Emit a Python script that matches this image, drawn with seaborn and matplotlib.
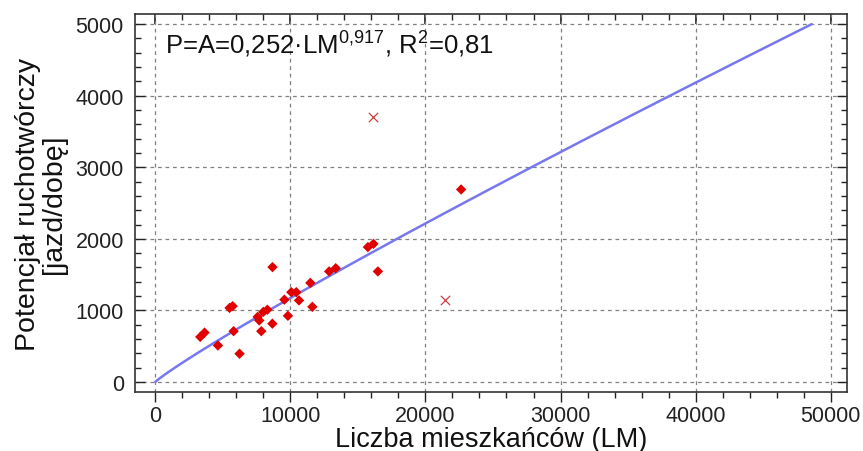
import matplotlib
matplotlib.use("Agg")
import matplotlib.pyplot as plt
from matplotlib.ticker import MultipleLocator
import numpy as np
import pandas as pd
import seaborn as sns

# observed points (population, trip potential)
lm = [3330, 3650, 4640, 6240, 5500, 5730, 5800, 7580, 7700, 7850, 8000, 8300,
      8680, 8670, 9560, 9820, 10070, 10440, 10640, 11480, 11630, 12870, 13360,
      15740, 16150, 16480, 22640]
potential = [630, 690, 510, 395, 1035, 1060, 710, 910, 860, 710, 980, 1010,
             1605, 815, 1150, 925, 1255, 1255, 1140, 1385, 1050, 1545, 1590,
             1885, 1930, 1545, 2690]
# outliers excluded from fit
out_lm = [21440, 16110]
out_potential = [1140, 3705]

A = 0.252
b = 0.917

sns.set_theme(style="white")
plt.rcParams['font.family'] = ['Liberation Sans', 'DejaVu Sans']
plt.rcParams['mathtext.fontset'] = 'custom'
plt.rcParams['mathtext.rm'] = 'Liberation Sans'
plt.rcParams['mathtext.it'] = 'Liberation Sans'

fig = plt.figure(figsize=(8.63, 4.52), dpi=100)
ax = fig.add_axes([0.1564, 0.1305, 0.825, 0.836])

xs = np.linspace(0, (5000 / A) ** (1 / b), 300)
fit = pd.DataFrame({"x": xs, "y": A * xs ** b})
sns.lineplot(data=fit, x="x", y="y", ax=ax, color="#7878ee", linewidth=1.8, zorder=2)

pts = pd.DataFrame({"x": lm, "y": potential})
sns.scatterplot(data=pts, x="x", y="y", ax=ax, marker="D", color="#e00000",
                s=28, edgecolor="none", zorder=3)
outs = pd.DataFrame({"x": out_lm, "y": out_potential})
sns.scatterplot(data=outs, x="x", y="y", ax=ax, marker="x", color="#c84040",
                s=45, linewidth=0.9, zorder=3)

ax.set_xlim(-1500, 51200)
ax.set_ylim(-140, 5140)
ax.xaxis.set_major_locator(MultipleLocator(10000))
ax.xaxis.set_minor_locator(MultipleLocator(2000))
ax.yaxis.set_major_locator(MultipleLocator(1000))
ax.yaxis.set_minor_locator(MultipleLocator(200))
ax.grid(True, which="major", linestyle=(0, (3, 3)), color="#808080", linewidth=0.9)

ax.tick_params(axis="x", which="both", direction="out", bottom=True, top=False,
               labelsize=15.5, colors="#222222", pad=2)
ax.tick_params(axis="x", which="major", length=7, width=1)
ax.tick_params(axis="x", which="minor", length=4, width=1)
ax.tick_params(axis="y", which="both", direction="in", left=True, right=True,
               labelsize=15.5, colors="#222222", pad=8)
ax.tick_params(axis="y", which="major", length=7, width=1)
ax.tick_params(axis="y", which="minor", length=4, width=1)
sec = ax.secondary_xaxis("top")
sec.xaxis.set_major_locator(MultipleLocator(10000))
sec.xaxis.set_minor_locator(MultipleLocator(2000))
sec.tick_params(which="both", direction="in", labeltop=False)
sec.tick_params(which="major", length=7)
sec.tick_params(which="minor", length=4)
for s in sec.spines.values():
    s.set_visible(False)

for s in ax.spines.values():
    s.set_color("#333333")
    s.set_linewidth(1.2)

ax.set_xlabel("Liczba mieszkańców (LM)", fontsize=19.5, color="#111111", labelpad=0)
ax.set_ylabel("Potencjał ruchotwórczy\n[jazd/dobę]", fontsize=20.5, color="#111111",
              labelpad=6, linespacing=1.0)

ax.text(0.042, 0.92, r"P=A=0,252·LM$^{0{,}917}$, R$^{2}$=0,81", transform=ax.transAxes,
        fontsize=18.5, color="#111111", va="center", ha="left")

fig.savefig("out.png", dpi=100)
